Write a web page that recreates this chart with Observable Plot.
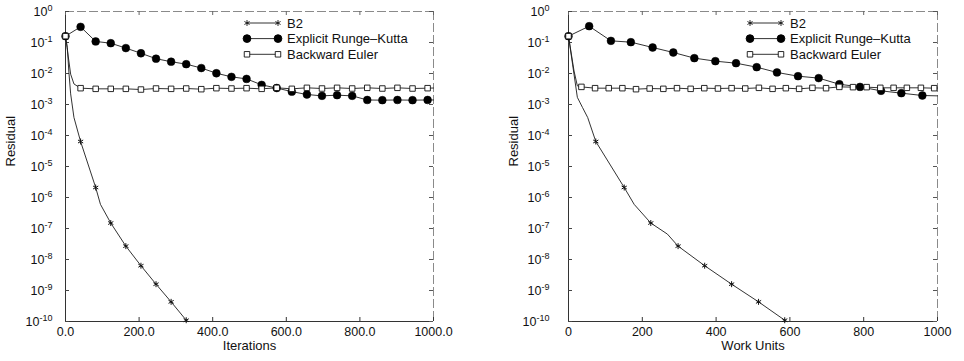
<!DOCTYPE html>
<html><head><meta charset="utf-8">
<script src="https://cdn.jsdelivr.net/npm/d3@7"></script>
<script src="https://cdn.jsdelivr.net/npm/@observablehq/plot@0.6"></script>
<style>
html,body{margin:0;padding:0;background:#fff;}
#wrap{position:relative;width:964px;height:361px;overflow:hidden;}
#wrap svg{position:absolute;top:0;}
</style></head><body><div id="wrap"></div>
<script>
// ---- shared labels / ticks ----
const seriesNames = ["B2", "Explicit Runge\u2013Kutta", "Backward Euler"];
const yLabel = "Residual";
const yTicks = [1, 1e-1, 1e-2, 1e-3, 1e-4, 1e-5, 1e-6, 1e-7, 1e-8, 1e-9, 1e-10];
const yTickExponents = ["0", "-1", "-2", "-3", "-4", "-5", "-6", "-7", "-8", "-9", "-10"];
const xTicks = [0, 200, 400, 600, 800, 1000];
const xTickLabelsIter = ["0.0", "200.0", "400.0", "600.0", "800.0", "1000.0"];
const xTickLabelsWork = ["0", "200", "400", "600", "800", "1000"];
const xDomain = [0, 1000];
const yDomain = [1e-10, 1];

// ---- left panel: Iterations ----
const b2IterMarkX = [0, 41, 82, 123, 164, 205, 246, 287, 328];
const b2IterMarkY = [0.16, 6.4e-5, 2.1e-6, 1.5e-7, 2.7e-8, 6.3e-9, 1.6e-9, 4.3e-10, 1.1e-10];
const b2IterPathX = [5, 9, 14, 23, 95];
const b2IterPathY = [0.069, 0.012, 0.0022, 3.8e-4, 6e-7];

const rkIterMarkX = [0, 41, 82, 123, 164, 205, 246, 287, 328, 369, 410, 451, 492, 533, 574, 615, 656, 697, 738, 779, 820, 861, 902, 943, 984];
const rkIterMarkY = [0.16, 0.32, 0.108, 0.095, 0.066, 0.045, 0.030, 0.024, 0.020, 0.015, 0.0102, 0.0078, 0.0067, 0.0043, 0.0034, 0.0026, 0.0021, 0.0019, 0.0020, 0.0019, 0.0014, 0.00138, 0.0014, 0.00138, 0.0014];
const rkIterPathX = [1000];
const rkIterPathY = [0.0014];

const beIterMarkX = [0, 41, 82, 123, 164, 205, 246, 287, 328, 369, 410, 451, 492, 533, 574, 615, 656, 697, 738, 779, 820, 861, 902, 943, 984];
const beIterMarkY = [0.16, 0.00336, 0.0032, 0.0032, 0.0032, 0.00304, 0.00328, 0.0032, 0.00328, 0.00312, 0.00336, 0.00328, 0.00336, 0.0032, 0.00345, 0.0032, 0.00345, 0.00328, 0.00345, 0.00328, 0.00345, 0.00328, 0.00345, 0.00328, 0.00336];
const beIterPathX = [14, 23, 1000];
const beIterPathY = [0.0095, 0.0046, 0.0034];

// ---- right panel: Work Units ----
const b2WorkMarkX = [0, 74, 151, 223, 297, 369, 442, 515, 586];
const b2WorkMarkY = [0.16, 6.4e-5, 2.1e-6, 1.5e-7, 2.7e-8, 6.3e-9, 1.6e-9, 4.3e-10, 1.1e-10];
const b2WorkPathX = [11, 24, 38, 52, 178, 268];
const b2WorkPathY = [0.02, 0.0017, 8e-4, 3.8e-4, 6e-7, 6.6e-8];

const rkWorkMarkX = [0, 56, 115, 169, 228, 284, 341, 398, 454, 510, 565, 622, 678, 734, 790, 847, 902, 959];
const rkWorkMarkY = [0.16, 0.336, 0.113, 0.1025, 0.069, 0.0476, 0.0313, 0.025, 0.0215, 0.016, 0.0108, 0.0082, 0.0071, 0.0045, 0.0037, 0.00276, 0.00232, 0.00195];
const rkWorkPathX = [1000];
const rkWorkPathY = [0.0019];

const beWorkMarkX = [0, 35, 72, 109, 146, 183, 220, 257, 294, 331, 368, 405, 442, 479, 516, 553, 589, 625, 661, 698, 734, 771, 808, 845, 881, 917, 955, 991];
const beWorkMarkY = [0.16, 0.0037, 0.00336, 0.00336, 0.00336, 0.00312, 0.00328, 0.0032, 0.00336, 0.0032, 0.00336, 0.00328, 0.00336, 0.00328, 0.00345, 0.0032, 0.00336, 0.0032, 0.00345, 0.00336, 0.0037, 0.00363, 0.00363, 0.00345, 0.00345, 0.00345, 0.00345, 0.00336];
const beWorkPathX = [15, 24, 1000];
const beWorkPathY = [0.012, 0.004, 0.0034];

// ---- helpers ----
const FONT = "'Liberation Sans', Arial, Helvetica, sans-serif";
const LINE = "#1c1c1c";
function pts(xs, ys) { return xs.map((x, i) => ({x, y: ys[i]})); }
function merged(mx, my, px, py) { return pts(mx, my).concat(pts(px, py)).sort((a, b) => a.x - b.x); }

const H = 361, MT = 11, MB = 40;
const panels = [
  {left: 0, width: 482, ml: 65, mr: 49, yPad: 13, xLabel: "Iterations", xLabels: xTickLabelsIter,
   b2: [b2IterMarkX, b2IterMarkY, b2IterPathX, b2IterPathY],
   rk: [rkIterMarkX, rkIterMarkY, rkIterPathX, rkIterPathY],
   be: [beIterMarkX, beIterMarkY, beIterPathX, beIterPathY]},
  {left: 482, width: 482, ml: 86, mr: 27, yPad: 19, xLabel: "Work Units", xLabels: xTickLabelsWork,
   b2: [b2WorkMarkX, b2WorkMarkY, b2WorkPathX, b2WorkPathY],
   rk: [rkWorkMarkX, rkWorkMarkY, rkWorkPathX, rkWorkPathY],
   be: [beWorkMarkX, beWorkMarkY, beWorkPathX, beWorkPathY]}
];

const expMap = new Map(yTicks.map((t, i) => [t, yTickExponents[i]]));

for (const p of panels) {
  const plotW = p.width - p.ml - p.mr;
  const plotH = H - MT - MB;
  const xLabMap = new Map(xTicks.map((t, i) => [t, p.xLabels[i]]));
  const svg = Plot.plot({
    width: p.width, height: H,
    marginLeft: p.ml, marginRight: p.mr, marginTop: MT, marginBottom: MB,
    style: {fontFamily: FONT, fontSize: "12.5px", color: "#111", background: "white", overflow: "visible"},
    x: {domain: xDomain, label: null},
    y: {type: "log", domain: yDomain, label: null},
    marks: [
      // frame
      Plot.ruleX([xDomain[1]], {stroke: "#8a8a8a", strokeDasharray: "9,3"}),
      Plot.ruleY([yDomain[1]], {stroke: "#8a8a8a", strokeDasharray: "9,3"}),
      Plot.ruleX([xDomain[0]], {stroke: "#333"}),
      Plot.ruleY([yDomain[0]], {stroke: "#333"}),
      // inward ticks
      Plot.tickX(xTicks, {x: d => d, insetTop: plotH - 4, stroke: "#333"}),
      Plot.tickX(xTicks, {x: d => d, insetBottom: plotH - 4, stroke: "#666"}),
      Plot.tickY(yTicks, {y: d => d, insetRight: plotW - 4, stroke: "#444"}),
      Plot.tickY(yTicks, {y: d => d, insetLeft: plotW - 4, stroke: "#555"}),
      // axes
      Plot.axisX(xTicks, {tickSize: 0, tickPadding: 6, tickFormat: d => xLabMap.get(d), label: null, fontSize: 12.5}),
      Plot.axisY(yTicks, {tickSize: 0, tickPadding: p.yPad, tickFormat: d => expMap.get(d), label: null, fontSize: 12.5}),
      Plot.text([p.xLabel], {text: d => d, frameAnchor: "bottom", dy: 28, fontSize: 13}),
      Plot.text([yLabel], {text: d => d, frameAnchor: "left", dx: -55, rotate: -90, fontSize: 13}),
      // series lines
      Plot.line(merged(...p.b2), {x: "x", y: "y", stroke: LINE, strokeWidth: 0.9}),
      Plot.line(merged(...p.rk), {x: "x", y: "y", stroke: LINE, strokeWidth: 0.9}),
      Plot.line(merged(...p.be), {x: "x", y: "y", stroke: LINE, strokeWidth: 0.9}),
      // markers
      Plot.dot(pts(p.b2[0], p.b2[1]), {x: "x", y: "y", symbol: "asterisk", r: 2.8, stroke: "#111", strokeWidth: 1}),
      Plot.dot(pts(p.rk[0], p.rk[1]), {x: "x", y: "y", symbol: "circle", r: 3.9, fill: "#000", stroke: "#000", strokeWidth: 0.5}),
      Plot.dot(pts(p.be[0], p.be[1]), {x: "x", y: "y", symbol: "square", r: 3.1, fill: "white", stroke: "#111", strokeWidth: 0.9})
    ]
  });
  svg.style.left = p.left + "px";
  document.getElementById("wrap").appendChild(svg);

  const s = d3.select(svg);
  // superscript exponents on y tick labels
  s.selectAll('g[aria-label="y-axis tick label"] text').each(function () {
    const e = this.textContent;
    const t = d3.select(this);
    t.text(null);
    t.append("tspan").text("10");
    t.append("tspan").attr("dy", "-0.55em").attr("font-size", "9px").text(e);
  });

  // legend inside the plot, upper right
  const lx0 = p.ml + 182, lx1 = p.ml + 213, tx = p.ml + 222;
  const rows = [MT + 12, MT + 27.6, MT + 43.3];
  const symbols = [
    {type: d3.symbolAsterisk, r: 2.8, fill: "none", stroke: "#111"},
    {type: d3.symbolCircle, r: 3.9, fill: "#000", stroke: "#000"},
    {type: d3.symbolSquare, r: 3.1, fill: "white", stroke: "#111"}
  ];
  const lg = s.append("g").attr("aria-label", "legend").attr("text-anchor", "start");
  seriesNames.forEach((name, i) => {
    const y = rows[i], sym = symbols[i];
    lg.append("line").attr("x1", lx0).attr("x2", lx1).attr("y1", y).attr("y2", y)
      .attr("stroke", LINE).attr("stroke-width", 0.9);
    for (const x of [lx0, lx1]) {
      lg.append("path").attr("transform", `translate(${x},${y})`)
        .attr("d", d3.symbol(sym.type, Math.PI * sym.r * sym.r)())
        .attr("fill", sym.fill).attr("stroke", sym.stroke).attr("stroke-width", 0.9);
    }
    lg.append("text").attr("x", tx).attr("y", y).attr("dy", "0.35em")
      .attr("text-anchor", "start").attr("font-size", "13px").attr("fill", "#111").text(name);
  });
}
</script></body></html>
